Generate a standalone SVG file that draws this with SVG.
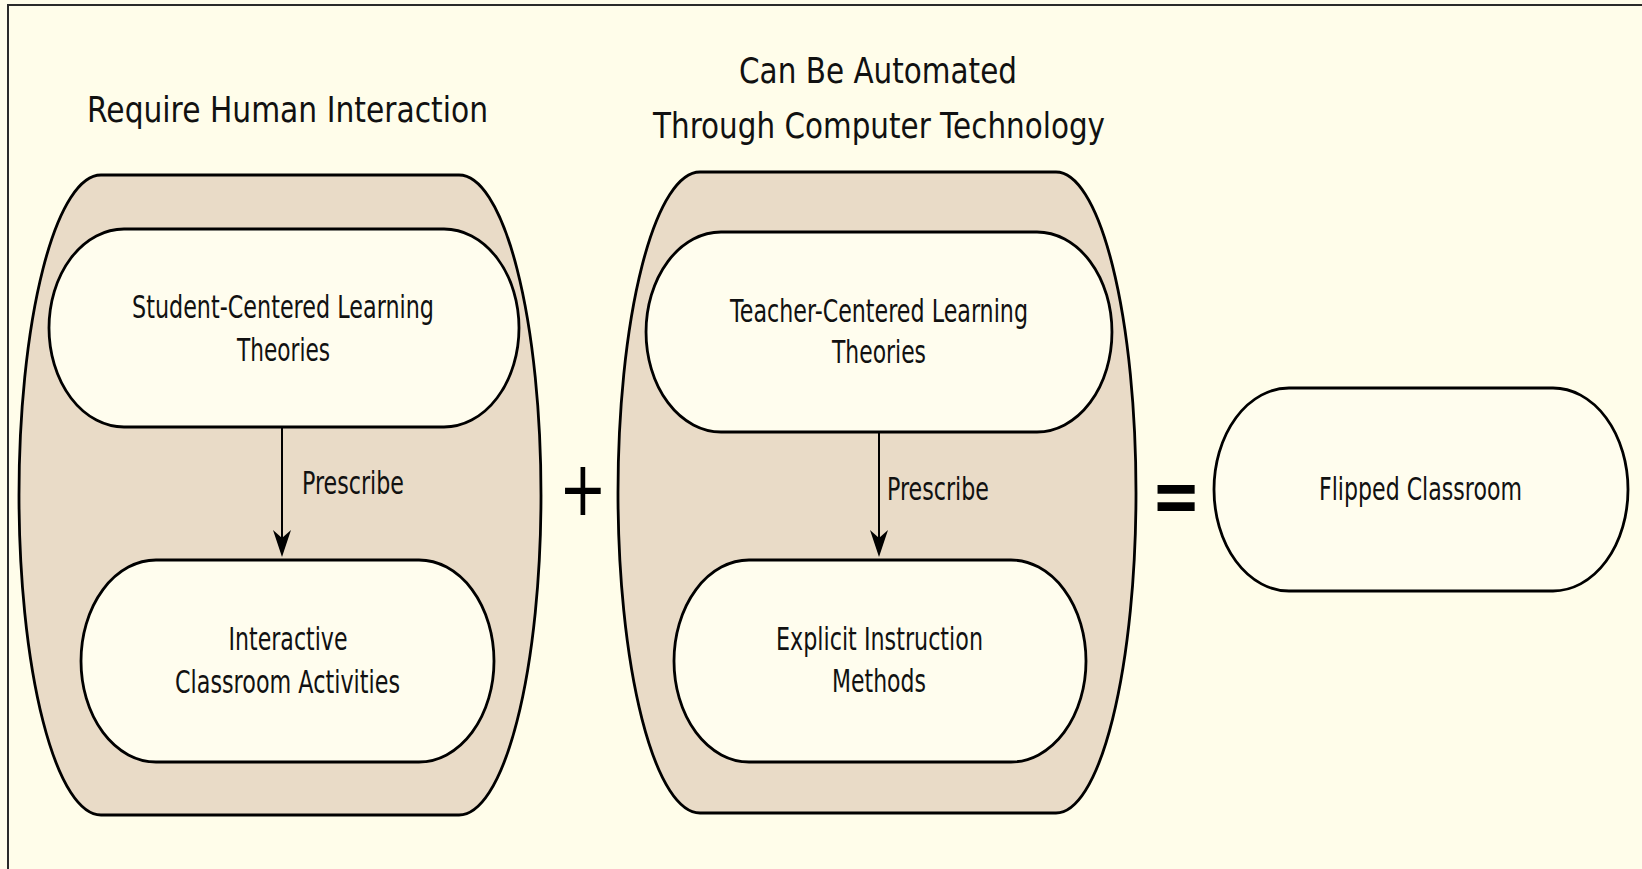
<svg xmlns="http://www.w3.org/2000/svg" width="1642" height="869" viewBox="0 0 1642 869">
<defs>
<style>
.bg{fill:#FFFDEA}
.frame{fill:none;stroke:#2a2a2a;stroke-width:2}
.cont{fill:#E9DBC7;stroke:#000;stroke-width:2.8}
.box{fill:#FFFDEE;stroke:#000;stroke-width:2.8}
text{font-family:"DejaVu Sans","Liberation Sans",sans-serif;fill:#111}
.t{font-size:31.5px;text-anchor:middle}
.h{font-size:36px;text-anchor:middle}
.lbl{font-size:31.5px}
.conn{stroke:#000;stroke-width:2;fill:none}
.op{font-size:76px;text-anchor:middle;fill:#000}
</style>
<marker id="arr" viewBox="0 0 27 18" refX="20" refY="9" markerWidth="27" markerHeight="18" markerUnits="userSpaceOnUse" orient="auto">
<path d="M0,0 L27,9 L0,18 L8,9 Z" fill="#000"/>
</marker>
</defs>
<rect class="bg" x="0" y="0" width="1642" height="869"/>
<path class="frame" d="M8,869 V5 H1642"/>

<g id="title-left">
<text class="h" x="287.5" y="122" textLength="401" lengthAdjust="spacingAndGlyphs">Require Human Interaction</text>
</g>
<g id="title-right">
<text class="h" x="878" y="83" textLength="278" lengthAdjust="spacingAndGlyphs">Can Be Automated</text>
<text class="h" x="879" y="138" textLength="452" lengthAdjust="spacingAndGlyphs">Through Computer Technology</text>
</g>

<g id="group-human">
<path class="cont" d="M101,175 H459 A82 320 0 0 1 459,815 H101 A82 320 0 0 1 101,175 Z"/>
</g>
<g id="group-automated">
<path class="cont" d="M700,172 H1056 A80 320.5 0 0 1 1056,813 H700 A82 320.5 0 0 1 700,172 Z"/>
</g>

<g id="connectors">
<line class="conn" x1="282" y1="428" x2="282" y2="550" marker-end="url(#arr)"/>
<line class="conn" x1="879" y1="433" x2="879" y2="550" marker-end="url(#arr)"/>
<text class="lbl" x="302" y="494" textLength="102" lengthAdjust="spacingAndGlyphs">Prescribe</text>
<text class="lbl" x="887" y="500" textLength="102" lengthAdjust="spacingAndGlyphs">Prescribe</text>
</g>

<g id="student-centered">
<path class="box" d="M124,229 H444 A75 99 0 0 1 444,427 H124 A75 99 0 0 1 124,229 Z"/>
<text class="t" x="283" y="318" textLength="302" lengthAdjust="spacingAndGlyphs">Student-Centered Learning</text>
<text class="t" x="283.5" y="361" textLength="93" lengthAdjust="spacingAndGlyphs">Theories</text>
</g>

<g id="interactive-activities">
<path class="box" d="M156,560 H419 A75 101 0 0 1 419,762 H156 A75 101 0 0 1 156,560 Z"/>
<text class="t" x="288" y="650" textLength="119" lengthAdjust="spacingAndGlyphs">Interactive</text>
<text class="t" x="287.5" y="693" textLength="225" lengthAdjust="spacingAndGlyphs">Classroom Activities</text>
</g>

<g id="teacher-centered">
<path class="box" d="M721,232 H1037 A75 100 0 0 1 1037,432 H721 A75 100 0 0 1 721,232 Z"/>
<text class="t" x="879" y="322" textLength="298" lengthAdjust="spacingAndGlyphs">Teacher-Centered Learning</text>
<text class="t" x="879" y="363" textLength="94" lengthAdjust="spacingAndGlyphs">Theories</text>
</g>

<g id="explicit-instruction">
<path class="box" d="M749,560 H1011 A75 101 0 0 1 1011,762 H749 A75 101 0 0 1 749,560 Z"/>
<text class="t" x="879.5" y="650" textLength="207" lengthAdjust="spacingAndGlyphs">Explicit Instruction</text>
<text class="t" x="879" y="692" textLength="94" lengthAdjust="spacingAndGlyphs">Methods</text>
</g>

<g id="flipped-classroom">
<path class="box" d="M1289,388 H1553 A75 101.5 0 0 1 1553,591 H1289 A75 101.5 0 0 1 1289,388 Z"/>
<text class="t" x="1420.5" y="500" textLength="203" lengthAdjust="spacingAndGlyphs">Flipped Classroom</text>
</g>

<g id="operators">
<text class="op" transform="translate(583,515) scale(0.75,1)" x="0" y="0">+</text>
<text class="op" transform="translate(1176,522) scale(0.78,1)" x="0" y="0" style="font-weight:bold">=</text>
</g>
</svg>
